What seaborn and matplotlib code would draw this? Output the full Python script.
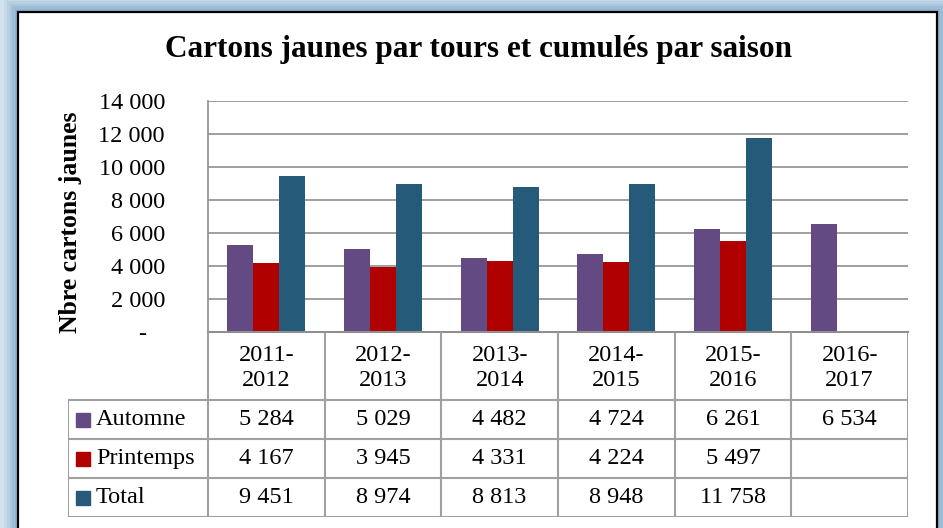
import pandas as pd
import numpy as np
import matplotlib
matplotlib.use("Agg")
import matplotlib.pyplot as plt
import matplotlib.ticker as mtick
from matplotlib.patches import Rectangle
import seaborn as sns

# ── Data ────────────────────────────────────────────────────────────────────
saisons   = ["2011-\n2012", "2012-\n2013", "2013-\n2014", "2014-\n2015", "2015-\n2016", "2016-\n2017"]
tours     = ["Automne", "Printemps", "Total"]
automne   = [5284, 5029, 4482, 4724, 6261, 6534]
printemps = [4167, 3945, 4331, 4224, 5497, np.nan]
total     = [9451, 8974, 8813, 8948, 11758, np.nan]

COLORS = {"Automne": "#644A82", "Printemps": "#B00000", "Total": "#255A78"}
GRID   = "#8f8f8f"
TABLE  = "#a0a0a0"

df = pd.DataFrame({
    "saison": saisons * 3,
    "tour":   sum([[t] * len(saisons) for t in tours], []),
    "cartons": automne + printemps + total,
})

sns.set_style("white")
plt.rcParams.update({
    "font.family": ["Liberation Serif", "DejaVu Serif"],
    "text.color": "black",
    "axes.labelcolor": "black",
    "ytick.color": "black",
})

W, H = 943, 528
fig = plt.figure(figsize=(W / 100, H / 100), dpi=100)
fig.patch.set_facecolor("#d3e3ee")

# glow + frame
glow = ["#d3e3ee", "#c6dae9", "#b8d0e3", "#aac7dd", "#9dbdd6", "#91b4d0"]
for i, c in enumerate(glow):
    off = (len(glow) - i) * 2.8
    fig.patches.append(Rectangle(((18 - off) / W, -0.05), (919 + 2 * off) / W, 1.05 - (12 - off) / H,
                                 transform=fig.transFigure, facecolor=c, edgecolor="none", zorder=-3))
fig.patches.append(Rectangle((18 / W, -0.05), 919 / W, 1.05 - 12 / H, transform=fig.transFigure,
                             facecolor="white", edgecolor="black", linewidth=1.6, zorder=-2))

# ── Bar chart ───────────────────────────────────────────────────────────────
ax = fig.add_axes([208 / W, 1 - 332 / H, 700 / W, 231 / H])
sns.barplot(data=df, x="saison", y="cartons", hue="tour", hue_order=tours,
            palette=COLORS, width=0.67, saturation=1, errorbar=None,
            legend=False, linewidth=0, ax=ax)
ax.set_xlim(-0.5, len(saisons) - 0.5)
ax.set_ylim(0, 14000)
ax.set_yticks(range(0, 14001, 2000))
ax.yaxis.set_major_formatter(mtick.FuncFormatter(
    lambda v, _: "-   " if v == 0 else f"{int(v):,}".replace(",", " ")))
ax.tick_params(axis="y", length=0, pad=31, labelsize=17.5)
ax.set_xticks([])
ax.set_xlabel("")
ax.grid(axis="y", color=GRID, linewidth=1.2)
ax.set_axisbelow(True)
for s in ["top", "right"]:
    ax.spines[s].set_visible(False)
ax.spines["left"].set_color(GRID)
ax.spines["bottom"].set_color(GRID)
ax.spines["left"].set_linewidth(1.2)
ax.spines["bottom"].set_linewidth(1.5)
ax.set_ylabel("Nbre cartons jaunes", fontsize=18.5, fontweight="bold", va="center")
ax.yaxis.set_label_coords(-0.196, 0.476)

fig.text(479 / W, 1 - 50 / H, "Cartons jaunes par tours et cumulés par saison",
         ha="center", va="center", fontsize=22.5, fontweight="bold")

# ── Data table ──────────────────────────────────────────────────────────────
hdr = 68 / 39
colw = 116.667
left = -0.5 - 140 / colw
axt = fig.add_axes([68 / W, 1 - 517 / H, 840 / W, 185 / H])
axt.set_xlim(left, len(saisons) - 0.5)
axt.set_ylim(hdr + 3, 0)
axt.axis("off")

lw = 1.5
for k in range(len(saisons) + 1):
    axt.plot([k - 0.5, k - 0.5], [0, hdr + 3], color=TABLE, lw=lw, solid_capstyle="butt")
axt.plot([left, left], [hdr, hdr + 3], color=TABLE, lw=lw, solid_capstyle="butt")
for r in range(4):
    axt.plot([left, len(saisons) - 0.5], [hdr + r, hdr + r], color=TABLE, lw=lw, solid_capstyle="butt")

for i, s in enumerate(saisons):
    axt.text(i, hdr / 2 + 0.05, s, ha="center", va="center", fontsize=17.5, linespacing=1.25)

series = {"Automne": automne, "Printemps": printemps, "Total": total}
for r, t in enumerate(tours):
    yc = hdr + r + 0.5
    axt.plot(left + 15 / colw, yc, marker="s", markersize=10.5, color=COLORS[t], linestyle="none")
    axt.text(left + 28 / colw, yc, t, ha="left", va="center", fontsize=17.5)
    for i, v in enumerate(series[t]):
        if not np.isnan(v):
            axt.text(i, yc, f"{int(v):,}".replace(",", " "), ha="center", va="center", fontsize=17.5)

fig.savefig("out.png", dpi=100)
